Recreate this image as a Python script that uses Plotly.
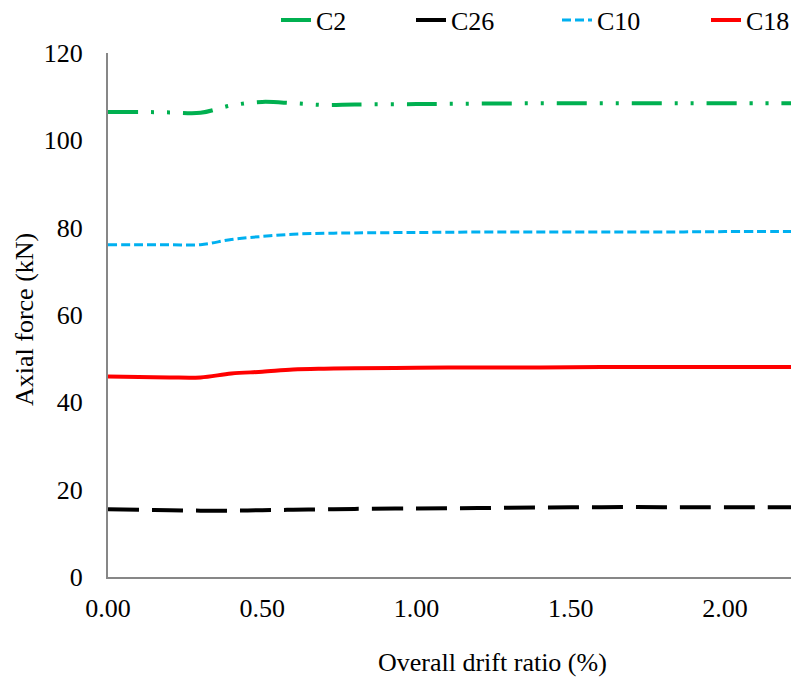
import plotly.graph_objects as go

drift = [0.00, 0.10, 0.20, 0.30, 0.40, 0.50, 0.60, 0.70, 0.80, 1.00, 1.20, 1.40, 1.60, 1.80, 2.00, 2.22]
c2 = [106.5, 106.5, 106.4, 106.3, 108.0, 108.8, 108.5, 108.1, 108.2, 108.3, 108.4, 108.5, 108.5, 108.5, 108.5, 108.5]
c26 = [15.5, 15.4, 15.3, 15.2, 15.2, 15.3, 15.4, 15.5, 15.6, 15.7, 15.8, 15.9, 16.0, 16.0, 16.0, 16.0]
c10 = [76.1, 76.1, 76.1, 76.1, 77.3, 78.0, 78.5, 78.7, 78.8, 78.9, 79.0, 79.0, 79.0, 79.0, 79.1, 79.1]
c18 = [45.9, 45.8, 45.7, 45.7, 46.6, 47.0, 47.5, 47.7, 47.8, 47.9, 48.0, 48.0, 48.1, 48.1, 48.1, 48.1]

x_ticks = [0.0, 0.5, 1.0, 1.5, 2.0]
x_tick_labels = ["0.00", "0.50", "1.00", "1.50", "2.00"]
y_ticks = [0, 20, 40, 60, 80, 100, 120]

font = "Liberation Serif, Times New Roman, serif"
FS = 26

series = [
    ("C2", c2, dict(color="#00B050", width=4, dash="30px,13px,3px,13px,3px,13px"), "legend", 276),
    ("C26", c26, dict(color="#000000", width=4, dash="31px,13px"), "legend2", 411),
    ("C10", c10, dict(color="#00B0F0", width=3, dash="9px,4px"), "legend3", 557),
    ("C18", c18, dict(color="#FF0000", width=4), "legend4", 706),
]

fig = go.Figure()
legends = {}
for name, vals, line, lg, lx in series:
    fig.add_trace(go.Scatter(x=drift, y=vals, name=name, mode="lines", line_shape="spline",
                             line=line, legend=lg))
    legends[lg] = dict(orientation="h", xref="container", yref="container",
                       x=lx / 792, xanchor="left", y=1 - 20 / 677, yanchor="middle",
                       font=dict(family=font, size=FS), bgcolor="rgba(0,0,0,0)")

fig.update_layout(
    width=792, height=677, autosize=False,
    margin=dict(l=108, r=1, t=53, b=100, autoexpand=False),
    paper_bgcolor="white", plot_bgcolor="white",
    font=dict(family=font, size=FS, color="black"),
    showlegend=True,
    xaxis=dict(range=[0, 2.214], tickvals=x_ticks, ticktext=x_tick_labels,
               showgrid=False, zeroline=False, showline=True, linecolor="#878787", linewidth=2,
               ticks="", ticklabelstandoff=7, tickfont=dict(size=FS), automargin=False),
    yaxis=dict(range=[0, 120], tickvals=y_ticks, showgrid=False, zeroline=False,
               showline=True, linecolor="#878787", linewidth=2, ticks="",
               ticklabelstandoff=18, tickfont=dict(size=FS), automargin=False),
    annotations=[
        dict(text="Overall drift ratio (%)", xref="paper", yref="paper",
             x=(492 - 108) / 683, y=-(662 - 577) / 524, xanchor="center", yanchor="middle",
             showarrow=False, font=dict(family=font, size=FS)),
        dict(text="Axial force (kN)", xref="paper", yref="paper",
             x=(24 - 108) / 683, y=(577 - 320) / 524, xanchor="center", yanchor="middle",
             textangle=-90, showarrow=False, font=dict(family=font, size=FS)),
    ],
    **legends,
)

fig.write_html("out.html", config={"displayModeBar": False},
               post_script="document.body.style.margin='0';document.body.style.overflow='hidden';")
